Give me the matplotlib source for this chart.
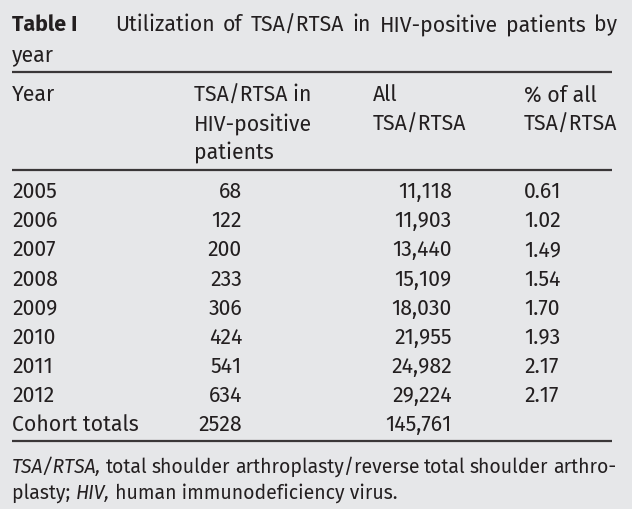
import matplotlib

matplotlib.use("Agg")
import matplotlib.pyplot as plt

plt.rcParams["font.family"] = ["Fira Sans", "DejaVu Sans"]

# table contents
years = ["2005", "2006", "2007", "2008", "2009", "2010", "2011", "2012"]
hiv_counts = ["68", "122", "200", "233", "306", "424", "541", "634"]
all_counts = ["11,118", "11,903", "13,440", "15,109", "18,030", "21,955", "24,982", "29,224"]
pct_of_all = ["0.61", "1.02", "1.49", "1.54", "1.70", "1.93", "2.17", "2.17"]
total_label = "Cohort totals"
total_hiv = "2528"
total_all = "145,761"

bg = "#e6e7e9"
ink = "#231f20"
fs = 15.3
fs_note = 14

fig = plt.figure(figsize=(6.32, 5.09), dpi=100, facecolor=bg)
ax = fig.add_axes([0, 0, 1, 1])
ax.set_xlim(0, 632)
ax.set_ylim(509, 0)
ax.axis("off")
fig.canvas.draw()
renderer = fig.canvas.get_renderer()


def put(x, y, s, size=fs, **kw):
    kw.setdefault("va", "center")
    return ax.text(x, y, s, fontsize=size, color=ink, **kw)


def justify(words, y, left, right, size=fs):
    """spread words (text, style) so the line fills left..right, like the journal typesetting"""
    texts = [put(0, y, w, size=size, style=st) for w, st in words]
    widths = [t.get_window_extent(renderer).width for t in texts]
    gap = (right - left - sum(widths)) / (len(words) - 1)
    x = left
    for t, w in zip(texts, widths):
        t.set_x(x)
        x += w + gap


def run_on(parts, y, left, size=fs):
    x = left
    for s, st in parts:
        t = put(x, y, s, size=size, style=st)
        x += t.get_window_extent(renderer).width


# title
put(12, 25, "Table I", fontweight="bold")
justify([(w, "normal") for w in
         "Utilization of TSA/RTSA in HIV-positive patients by".split()], 25, 115, 617)
put(12, 55, "year")

# rules
for y in [72, 170, 441]:
    ax.plot([12, 612], [y, y], color="#3a3738", lw=1.6, solid_capstyle="butt")

# header (one line at a time)
hdr_y = [95, 124, 152]
put(12, hdr_y[0], "Year")
for y, s in zip(hdr_y, ["TSA/RTSA in", "HIV-positive", "patients"]):
    put(194, y, s)
for y, s in zip(hdr_y, ["All", "TSA/RTSA"]):
    put(373, y, s)
for y, s in zip(hdr_y, ["% of all", "TSA/RTSA"]):
    put(524, y, s)

# body rows
row_y0 = 192
row_step = 29.1
for i, (yr, h, a, p) in enumerate(zip(years, hiv_counts, all_counts, pct_of_all)):
    y = row_y0 + i * row_step
    put(12, y, yr)
    put(242, y, h, ha="right")
    put(452, y, a, ha="right")
    put(524, y, p)

y = row_y0 + len(years) * row_step
put(12, y, total_label)
put(242, y, total_hiv, ha="right")
put(452, y, total_all, ha="right")

# footnote, italic abbreviations mixed with regular text
note1 = [("TSA/RTSA,", "italic")] + [(w, "normal") for w in
         "total shoulder arthroplasty/reverse total shoulder arthro-".split()]
justify(note1, 467, 12, 616, size=fs_note)
run_on([("plasty; ", "normal"), ("HIV,", "italic"),
        (" human immunodeficiency virus.", "normal")], 493, 12, size=fs_note)

fig.savefig("out.png", dpi=100, facecolor=bg)
